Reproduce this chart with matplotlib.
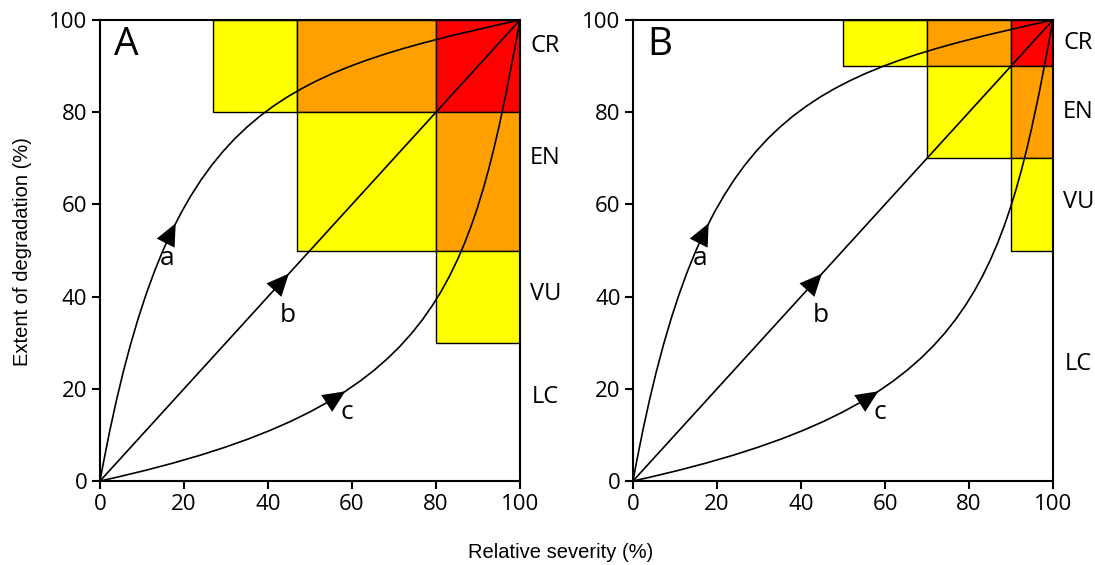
import numpy as np
import matplotlib
matplotlib.use("Agg")
import matplotlib.pyplot as plt
from matplotlib.path import Path
from matplotlib.patches import PathPatch, Rectangle

# data
ticks = [0, 20, 40, 60, 80, 100]
classes = ["CR", "EN", "VU", "LC"]
class_colors = {"VU": "#ffff00", "EN": "#ffa000", "CR": "#ff0000"}

# panel A boxes: severity from/to, extent from/to, class
boxA_x0 = [27, 47, 80, 47, 80, 80]
boxA_x1 = [47, 80, 100, 80, 100, 100]
boxA_y0 = [80, 80, 80, 50, 50, 30]
boxA_y1 = [100, 100, 100, 80, 80, 50]
boxA_cls = ["VU", "EN", "CR", "VU", "EN", "VU"]
labelA_y = [94.3, 70, 40.5, 18.3]

# panel B boxes
boxB_x0 = [50, 70, 90, 70, 90, 90]
boxB_x1 = [70, 90, 100, 90, 100, 100]
boxB_y0 = [90, 90, 90, 70, 70, 50]
boxB_y1 = [100, 100, 100, 90, 90, 70]
boxB_cls = ["VU", "EN", "CR", "VU", "EN", "VU"]
labelB_y = [95, 80, 60.5, 25.3]

# trajectories (bezier control points)
traj_names = ["a", "b", "c"]
traj_pts = [
    [(0, 0), (16, 80), (40, 88), (100, 100)],
    [(0, 0), (33, 33), (67, 67), (100, 100)],
    [(0, 0), (80, 16), (88, 40), (100, 100)],
]
arrow_t = [0.31, 0.45, 0.33]
traj_label_xy = [(16, 48.3), (44.8, 35.9), (58.8, 14.8)]

txt_font = ["Open Sans", "DejaVu Sans"]
lab_font = ["Liberation Sans Narrow", "Liberation Sans", "DejaVu Sans"]


def bez(p, t):
    p = np.array(p, float)
    pt = ((1-t)**3)*p[0] + 3*t*(1-t)**2*p[1] + 3*t**2*(1-t)*p[2] + t**3*p[3]
    d = 3*(1-t)**2*(p[1]-p[0]) + 6*(1-t)*t*(p[2]-p[1]) + 3*t**2*(p[3]-p[2])
    return pt, d


def panel(ax, x0, x1, y0, y1, cls, lab_y, letter):
    for i in range(len(x0)):
        ax.add_patch(Rectangle((x0[i], y0[i]), x1[i]-x0[i], y1[i]-y0[i],
                               fc=class_colors[cls[i]], ec="black", lw=1.0, zorder=1))
    for k, pts in enumerate(traj_pts):
        path = Path(pts, [Path.MOVETO, Path.CURVE4, Path.CURVE4, Path.CURVE4])
        ax.add_patch(PathPatch(path, fc="none", ec="black", lw=1.2, zorder=3, clip_on=False))
        tip, d = bez(pts, arrow_t[k])
        u = d / np.hypot(*d)
        ax.annotate("", xy=tip, xytext=tip - 4*u,
                    arrowprops=dict(arrowstyle="-|>,head_length=0.8,head_width=0.36",
                                    color="black", lw=0, shrinkA=0, shrinkB=0,
                                    mutation_scale=20), zorder=4)
        ax.text(traj_label_xy[k][0], traj_label_xy[k][1], traj_names[k],
                fontsize=19, family=txt_font, ha="center", va="center")
    for c, yy in zip(classes, lab_y):
        ax.text(106, yy, c, fontsize=17, family=txt_font, ha="center", va="center",
                clip_on=False)
    ax.text(6.3, 94.5, letter, fontsize=28, family=txt_font, ha="center", va="center")
    ax.set_xlim(0, 100)
    ax.set_ylim(0, 100)
    ax.set_xticks(ticks)
    ax.set_yticks(ticks)
    ax.tick_params(direction="out", length=6, width=1.5, labelsize=16, pad=3)
    for lbl in ax.get_xticklabels() + ax.get_yticklabels():
        lbl.set_family(txt_font)
    for s in ax.spines.values():
        s.set_linewidth(1.5)
        s.set_zorder(5)


fig = plt.figure(figsize=(10.95, 5.65), dpi=100)
axA = fig.add_axes([100/1095, 84/565, 420/1095, 461/565])
axB = fig.add_axes([633/1095, 84/565, 420/1095, 461/565])

panel(axA, boxA_x0, boxA_x1, boxA_y0, boxA_y1, boxA_cls, labelA_y, "A")
panel(axB, boxB_x0, boxB_x1, boxB_y0, boxB_y1, boxB_cls, labelB_y, "B")

fig.text(0.512, 0.022, "Relative severity (%)", fontsize=14.5, family=lab_font,
         ha="center", va="center")
fig.text(0.021, 0.555, "Extent of degradation (%)", fontsize=14.5, family=lab_font,
         ha="center", va="center", rotation=90)

fig.savefig("out.png", dpi=100)
